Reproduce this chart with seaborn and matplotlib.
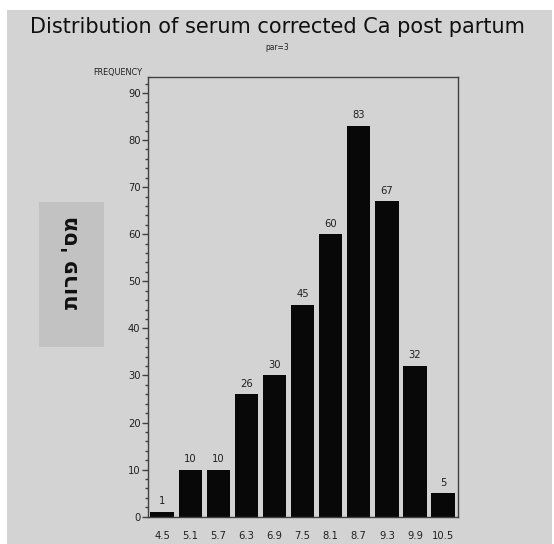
import matplotlib
matplotlib.use("Agg")
import matplotlib.pyplot as plt
from matplotlib.patches import Rectangle
from matplotlib.ticker import MultipleLocator
from matplotlib.font_manager import FontProperties
import seaborn as sns
import pandas as pd

# Midpoints of the calcium bins (mg/dL) and cow counts per bin
midpoints = ["4.5", "5.1", "5.7", "6.3", "6.9", "7.5", "8.1", "8.7", "9.3", "9.9", "10.5"]
counts = [1, 10, 10, 26, 30, 45, 60, 83, 67, 32, 5]

title_text = "Distribution of serum corrected Ca post partum"
subtitle_text = "par=3"
freq_label = "FREQUENCY"
side_label = "מס' פרות"

df = pd.DataFrame({"mid": midpoints, "count": counts})

sns.set_theme(style="white")
plt.rcParams["font.family"] = ["DejaVu Sans"]

W, H = 554, 544
fig = plt.figure(figsize=(W / 100, H / 100), dpi=100, facecolor="white")

panel_grey = "#d3d3d3"
fig.patches.append(Rectangle((7 / W, 0), (552 - 7) / W, (H - 10) / H,
                             transform=fig.transFigure, facecolor=panel_grey,
                             edgecolor="none", zorder=-2))
fig.patches.append(Rectangle((39 / W, 1 - 347 / H), 65 / W, 145 / H,
                             transform=fig.transFigure, facecolor="#c2c2c2",
                             edgecolor="none", zorder=-1))

ax = fig.add_axes([147.5 / W, 1 - 516.7 / H, (458 - 147.5) / W, (516.7 - 77) / H])
ax.set_zorder(2)
ax.set_facecolor(panel_grey)

sns.barplot(data=df, x="mid", y="count", color="#080808", saturation=1,
            width=0.83, ax=ax, errorbar=None, linewidth=0)


def narrow(size):
    return FontProperties(family="DejaVu Sans", stretch="condensed", size=size)


for i, v in enumerate(counts):
    ax.text(i, v + 1.2, str(v), ha="center", va="bottom",
            fontproperties=narrow(8), color="#202020")

ax.set_xlim(-0.52, 10.53)
ax.set_ylim(0, 93.4)
ax.yaxis.set_major_locator(MultipleLocator(10))
ax.yaxis.set_minor_locator(MultipleLocator(2))
ax.set_xlabel("")
ax.set_ylabel("")

for s in ax.spines.values():
    s.set_color("#404040")
    s.set_linewidth(1.0)
    s.set_visible(True)

ax.tick_params(axis="y", which="major", direction="out", length=4, width=1,
               color="#404040", pad=1, left=True)
ax.tick_params(axis="y", which="minor", direction="out", length=2.4, width=1,
               color="#404040", left=True)
ax.tick_params(axis="x", length=0, pad=10)
for lab in ax.get_yticklabels() + ax.get_xticklabels():
    lab.set_fontproperties(narrow(8))
    lab.set_color("#202020")

fig.text(277 / W, 1 - 27 / H, title_text, ha="center", va="center",
         fontsize=15, color="#101010")
fig.text(277 / W, 1 - 47 / H, subtitle_text, ha="center", va="center",
         fontproperties=narrow(6), color="#202020")
fig.text(142 / W, 1 - 72 / H, freq_label, ha="right", va="center",
         fontproperties=narrow(6.5), color="#202020")
# Hebrew runs right-to-left; matplotlib lays glyphs out left-to-right,
# so the characters are passed in visual order.
fig.text(71.5 / W, 1 - 262 / H, side_label[::-1], ha="center", va="center",
         rotation=90, fontsize=15.5, fontweight="bold", color="#101010",
         family=["DejaVu Sans"])

fig.savefig("out.png", dpi=100, facecolor="white")
